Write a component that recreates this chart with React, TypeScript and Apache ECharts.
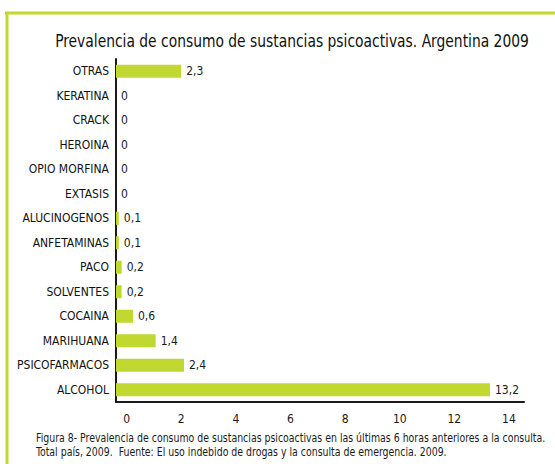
import React, { useEffect, useRef } from "react";
import * as echarts from "echarts";

const categories = [
  "OTRAS",
  "KERATINA",
  "CRACK",
  "HEROINA",
  "OPIO MORFINA",
  "EXTASIS",
  "ALUCINOGENOS",
  "ANFETAMINAS",
  "PACO",
  "SOLVENTES",
  "COCAINA",
  "MARIHUANA",
  "PSICOFARMACOS",
  "ALCOHOL",
];
const values = [2.3, 0, 0, 0, 0, 0, 0.1, 0.1, 0.2, 0.2, 0.6, 1.4, 2.4, 13.2];
const tickValues = [0, 2, 4, 6, 8, 10, 12, 14];

const titleText = "Prevalencia de consumo de sustancias psicoactivas. Argentina 2009";
const captionLines = [
  "Figura 8- Prevalencia de consumo de sustancias psicoactivas en las últimas 6 horas anteriores a la consulta.",
  "Total país, 2009.  Fuente: El uso indebido de drogas y la consulta de emergencia. 2009.",
];

const FONT = "'DejaVu Sans Condensed', 'Liberation Sans Narrow', sans-serif";
const GREEN = "#c0d82f";
const DARK = "#1a1a1a";

export default function App() {
  const ref = useRef<HTMLDivElement>(null);
  useEffect(() => {
    if (!ref.current) return;
    const chart = echarts.init(ref.current, null, { renderer: "svg" });
    chart.setOption({
      animation: false,
      backgroundColor: "#ffffff",
      grid: { left: 116, right: 31, top: 59, bottom: 62, containLabel: false },
      xAxis: [
        {
          type: "value",
          min: 0,
          max: 14.4,
          axisLine: { show: true, lineStyle: { color: DARK, width: 2 } },
          axisTick: { show: false },
          axisLabel: { show: false },
          splitLine: { show: false },
        },
        {
          type: "value",
          position: "bottom",
          min: -0.39,
          max: 14.55,
          axisLine: { show: false },
          axisTick: { show: false },
          splitLine: { show: false },
          axisLabel: {
            customValues: tickValues,
            margin: 11,
            fontFamily: FONT,
            fontSize: 12,
            color: DARK,
          },
        },
      ],
      yAxis: {
        type: "category",
        data: categories,
        inverse: true,
        axisLine: { show: true, lineStyle: { color: DARK, width: 2 } },
        axisTick: { show: false },
        axisLabel: {
          margin: 7,
          fontFamily: FONT,
          fontSize: 12,
          color: "#111111",
        },
      },
      series: [
        {
          type: "bar",
          xAxisIndex: 0,
          data: values,
          barWidth: 13,
          itemStyle: { color: GREEN },
          label: {
            show: true,
            position: "right",
            distance: 5,
            fontFamily: FONT,
            fontSize: 12,
            color: DARK,
            formatter: (p: any) => String(p.value).replace(".", ","),
          },
        },
      ],
      graphic: [
        {
          type: "line",
          shape: { x1: 5, y1: 13, x2: 555, y2: 13 },
          style: { stroke: GREEN, lineWidth: 3 },
        },
        {
          type: "line",
          shape: { x1: 7, y1: 12, x2: 7, y2: 464 },
          style: { stroke: GREEN, lineWidth: 3 },
        },
        {
          type: "text",
          x: 292,
          y: 41,
          scaleX: 0.856,
          style: {
            text: titleText,
            fontFamily: FONT,
            fontSize: 18,
            fill: "#111111",
            align: "center",
            verticalAlign: "middle",
          },
        },
        {
          type: "text",
          x: 36,
          y: 431,
          scaleX: 0.87,
          style: {
            text: captionLines.join("\n"),
            fontFamily: FONT,
            fontSize: 12,
            lineHeight: 14,
            fill: DARK,
            align: "left",
            verticalAlign: "top",
          },
        },
      ],
    });
    return () => chart.dispose();
  }, []);
  return (
    <div
      ref={ref}
      style={{ position: "fixed", left: 0, top: 0, width: 555, height: 464 }}
    />
  );
}
